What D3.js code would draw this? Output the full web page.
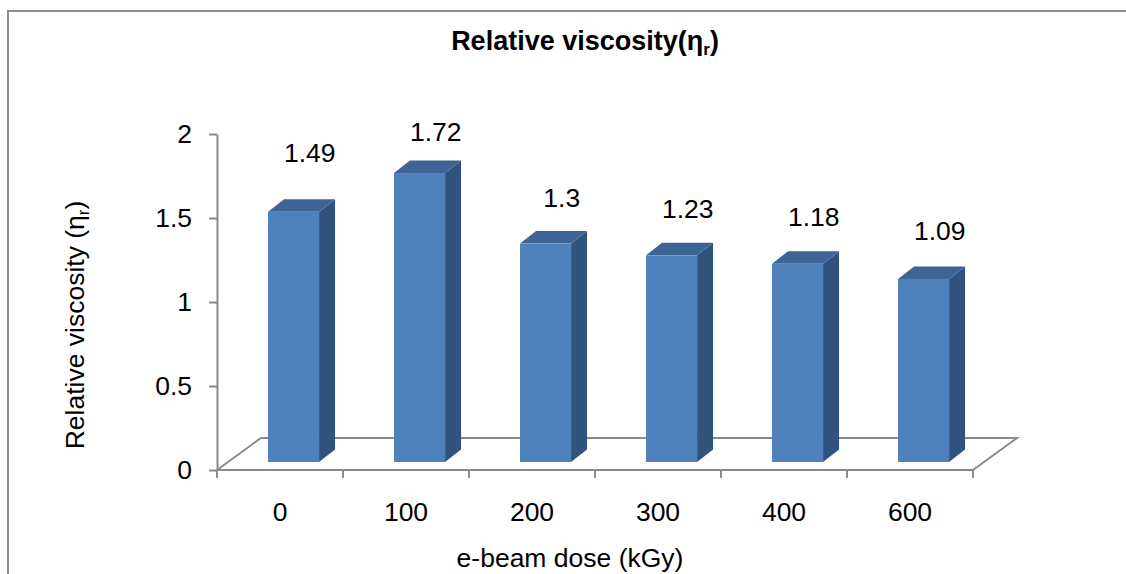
<!DOCTYPE html>
<html><head><meta charset="utf-8">
<script src="https://cdn.jsdelivr.net/npm/d3@7"></script>
<style>body{margin:0;background:#fff;}svg{display:block;font-family:"Liberation Sans",Arial,sans-serif;}</style>
</head><body>
<svg id="c" width="1126" height="574"></svg>
<script>
// ---- data ----
const categories = ["0", "100", "200", "300", "400", "600"];
const values = [1.49, 1.72, 1.3, 1.23, 1.18, 1.09];
const valueLabels = ["1.49", "1.72", "1.3", "1.23", "1.18", "1.09"];
const yTicks = [0, 0.5, 1, 1.5, 2];
const title = "Relative viscosity(η";
const titleSub = "r";
const yTitle = "Relative viscosity (η";
const xTitle = "e-beam dose (kGy)";

// ---- layout ----
const svg = d3.select("#c");
const x0 = 217, x1 = 973, yBase = 470, yTop = 134;
const depthX = 44, depthY = -32;          // floor depth
const barDX = 16, barDY = -12.5;          // bar depth
const barShift = 8;                       // bar base above front floor edge
const labelNudge = [-15, 0, 0, 0, 0, 0];
const FS = 26.5;

const x = d3.scaleBand().domain(categories).range([x0, x1]).padding(0);
const y = d3.scaleLinear().domain([0, 2]).range([yBase, yTop]);
const bw = x.bandwidth();

// border
svg.append("rect").attr("x", 8).attr("y", 11).attr("width", 1140).attr("height", 600)
  .attr("fill", "none").attr("stroke", "#8c8c8c").attr("stroke-width", 2);

const grey = "#8a8a8a";
// floor
svg.append("path")
  .attr("d", `M${x0},${yBase} L${x0 + depthX},${yBase + depthY} L${x1 + depthX},${yBase + depthY} L${x1},${yBase}`)
  .attr("fill", "none").attr("stroke", grey).attr("stroke-width", 2);

// y axis
const yAxis = d3.axisLeft(y).tickValues(yTicks).tickSize(8).tickSizeOuter(0).tickPadding(17)
  .tickFormat(d3.format("~g"));
const ga = svg.append("g").attr("transform", `translate(${x0},0)`).call(yAxis);
ga.select(".domain").attr("stroke", grey).attr("stroke-width", 2);
ga.selectAll(".tick line").attr("stroke", grey).attr("stroke-width", 2);
ga.selectAll(".tick text").attr("font-size", FS).attr("fill", "#000")
  .attr("font-family", "Liberation Sans, Arial, sans-serif");

// x axis line + ticks at band edges
svg.append("line").attr("x1", x0).attr("x2", x1).attr("y1", yBase).attr("y2", yBase)
  .attr("stroke", grey).attr("stroke-width", 2);
const edges = categories.map(c => x(c)).concat([x1]);
svg.selectAll(".xt").data(edges).enter().append("line")
  .attr("x1", d => d).attr("x2", d => d).attr("y1", yBase).attr("y2", yBase + 8)
  .attr("stroke", grey).attr("stroke-width", 2);
svg.selectAll(".xl").data(categories).enter().append("text")
  .attr("x", d => x(d) + bw / 2).attr("y", 521).attr("text-anchor", "middle")
  .attr("font-size", FS).text(d => d);

// bars
const yb = v => y(v) - barShift;
const bars = svg.selectAll(".bar").data(values).enter().append("g");
bars.each(function (v, i) {
  const g = d3.select(this);
  const l = x(categories[i]) + bw * 0.405, w = bw * 0.405;
  const top = yb(v), bot = yb(0);
  g.append("path").attr("d",
    `M${l + w},${top} L${l + w + barDX},${top + barDY} L${l + w + barDX},${bot + barDY} L${l + w},${bot} Z`)
    .attr("fill", "#31547E");
  g.append("path").attr("d",
    `M${l},${top} L${l + barDX},${top + barDY} L${l + w + barDX},${top + barDY} L${l + w},${top} Z`)
    .attr("fill", "#3D6495");
  g.append("rect").attr("x", l).attr("y", top).attr("width", w).attr("height", bot - top)
    .attr("fill", "#4F81BD");
});

// value labels
svg.selectAll(".vl").data(values).enter().append("text")
  .attr("x", (d, i) => x(categories[i]) + bw * 0.405 + barDX + bw * 0.2 + 0.5)
  .attr("y", (d, i) => yb(d) - 51 + (yb(0) - yb(d)) * 0.0655 + labelNudge[i])
  .attr("text-anchor", "middle").attr("font-size", FS)
  .text((d, i) => valueLabels[i]);

// title
const t = svg.append("text").attr("x", 585).attr("y", 50).attr("text-anchor", "middle")
  .attr("font-size", 27).attr("font-weight", "bold");
t.append("tspan").text(title);
t.append("tspan").attr("font-size", 17).attr("dy", 5).text(titleSub);
t.append("tspan").attr("dy", -5).text(")");

// y title
const yt = svg.append("text").attr("transform", "translate(84,325) rotate(-90)")
  .attr("text-anchor", "middle").attr("font-size", FS);
yt.append("tspan").text(yTitle);
yt.append("tspan").attr("font-size", 17).attr("dy", 5).text("r");
yt.append("tspan").attr("dy", -5).text(")");

// x title
svg.append("text").attr("x", 570).attr("y", 567).attr("text-anchor", "middle")
  .attr("font-size", FS).text(xTitle);
</script>
</body></html>
